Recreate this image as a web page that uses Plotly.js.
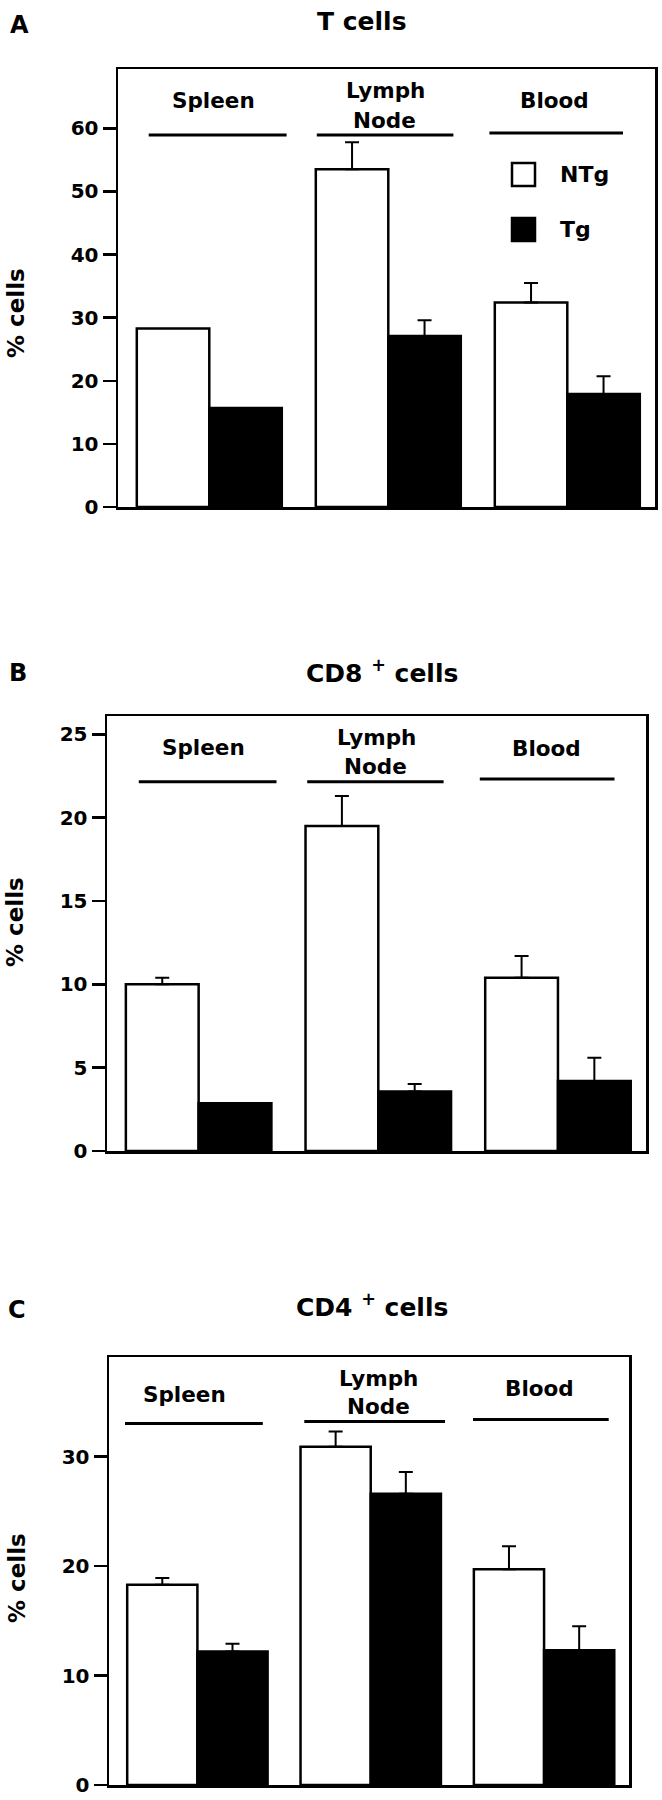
<!DOCTYPE html>
<html><head><meta charset="utf-8">
<script src="https://cdn.plot.ly/plotly-3.0.1.min.js"></script>
<style>body{margin:0;background:#fff}#chart{width:662px;height:1800px}</style>
</head><body><div id="chart"></div>
<script>
// ---------------- data ----------------
const categories = ["Spleen", "Lymph Node", "Blood"];
const seriesNames = ["NTg", "Tg"];
const panelLetters = ["A", "B", "C"];
const panelTitles = ["T cells", "CD8 <sup>+</sup> cells", "CD4 <sup>+</sup> cells"];
const yAxisLabel = "% cells";

// Panel A: T cells
const tcellNTg = [28.3, 53.5, 32.4];
const tcellNTgErr = [NaN, 4.3, 3.1];
const tcellTg = [15.7, 27.1, 17.9];
const tcellTgErr = [NaN, 2.5, 2.8];
const tcellTicks = [0, 10, 20, 30, 40, 50, 60];

// Panel B: CD8+ cells
const cd8NTg = [10.0, 19.5, 10.4];
const cd8NTgErr = [0.4, 1.8, 1.3];
const cd8Tg = [2.87, 3.57, 4.2];
const cd8TgErr = [NaN, 0.45, 1.4];
const cd8Ticks = [0, 5, 10, 15, 20, 25];

// Panel C: CD4+ cells
const cd4NTg = [18.3, 30.9, 19.7];
const cd4NTgErr = [0.6, 1.4, 2.1];
const cd4Tg = [12.2, 26.6, 12.3];
const cd4TgErr = [0.7, 2.0, 2.2];
const cd4Ticks = [0, 10, 20, 30];

// ---------------- layout geometry (pixels) ----------------
const W = 662, H = 1800;
const px = v => v / W;
const py = v => 1 - v / H;
const FONT = "DejaVu Sans";

const panels = [
  { ntg: tcellNTg, ntgErr: tcellNTgErr, tg: tcellTg, tgErr: tcellTgErr, ticks: tcellTicks,
    box: [118, 655, 69, 507], ymax: 69.4,
    letter: [19, 25], title: [361.5, 21],
    labels: [[[214, 100]], [[385.7, 90], [384.5, 121]], [[554.7, 100]]],
    lines: [[148.7, 286.6, 135], [316.8, 453.4, 135], [489.4, 623, 133]],
    ytitle: [16, 313], legend: true },
  { ntg: cd8NTg, ntgErr: cd8NTgErr, tg: cd8Tg, tgErr: cd8TgErr, ticks: cd8Ticks,
    box: [107, 646, 716, 1151], ymax: 26.1,
    letter: [18, 673], title: [382, 672],
    labels: [[[203.6, 747]], [[376, 737], [375, 766]], [[546, 748]]],
    lines: [[138.8, 276.5, 781.7], [307.2, 443.6, 781.7], [479.8, 614.5, 779]],
    ytitle: [15, 922], legend: false },
  { ntg: cd4NTg, ntgErr: cd4NTgErr, tg: cd4Tg, tgErr: cd4TgErr, ticks: cd4Ticks,
    box: [109, 629, 1357, 1785], ymax: 39.1,
    letter: [17, 1310], title: [372, 1305],
    labels: [[[184.6, 1394]], [[379, 1378], [378, 1406]], [[539.6, 1388]]],
    lines: [[125, 262.8, 1423.4], [304.3, 445, 1421.6], [473, 608.7, 1419.5]],
    ytitle: [17, 1578], legend: false }
];

const traces = [];
const annotations = [];
const shapes = [];
const layout = {
  width: W, height: H,
  margin: { l: 0, r: 0, t: 0, b: 0 },
  paper_bgcolor: "#fff", plot_bgcolor: "#fff",
  showlegend: false, hovermode: false,
  barmode: "group", bargap: 0.19, bargroupgap: 0,
  font: { family: FONT, color: "#000", weight: "bold" }
};

function errY(err) {
  return {
    type: "data", symmetric: false,
    array: err.map(e => (isNaN(e) ? NaN : e)),
    arrayminus: err.map(e => (isNaN(e) ? NaN : 0)),
    color: "#000", thickness: 2, width: 7, visible: true
  };
}

panels.forEach((p, i) => {
  const n = i + 1;
  const xa = "x" + (n === 1 ? "" : n), ya = "y" + (n === 1 ? "" : n);
  const xk = "xaxis" + (n === 1 ? "" : n), yk = "yaxis" + (n === 1 ? "" : n);
  traces.push({
    type: "bar", name: seriesNames[0], x: categories, y: p.ntg,
    xaxis: xa, yaxis: ya,
    marker: { color: "#fff", line: { color: "#000", width: 2.5 } },
    error_y: errY(p.ntgErr)
  });
  traces.push({
    type: "bar", name: seriesNames[1], x: categories, y: p.tg,
    xaxis: xa, yaxis: ya,
    marker: { color: "#000", line: { color: "#000", width: 2.5 } },
    error_y: errY(p.tgErr)
  });
  const [x0, x1, y0, y1] = p.box;
  layout[xk] = {
    type: "category", domain: [px(x0), px(x1)], range: [-0.51, 2.49],
    showline: true, mirror: true, linecolor: "#000", linewidth: 2.5,
    showticklabels: false, ticks: "", showgrid: false, zeroline: false,
    anchor: ya, fixedrange: true
  };
  layout[yk] = {
    domain: [py(y1), py(y0)], range: [0, p.ymax],
    showline: true, mirror: true, linecolor: "#000", linewidth: 2.5,
    ticks: "outside", ticklen: 13, tickwidth: 2.5, tickcolor: "#000",
    tickvals: p.ticks, ticktext: p.ticks.map(String),
    tickfont: { family: FONT, size: 20, color: "#000", weight: "bold" },
    showgrid: false, zeroline: false, anchor: xa, fixedrange: true
  };
  // panel letter and title
  annotations.push({ xref: "paper", yref: "paper", x: px(p.letter[0]), y: py(p.letter[1]),
    text: panelLetters[i], showarrow: false, xanchor: "center", yanchor: "middle",
    font: { family: FONT, size: 24, color: "#000", weight: "bold" } });
  annotations.push({ xref: "paper", yref: "paper", x: px(p.title[0]), y: py(p.title[1]),
    text: panelTitles[i], showarrow: false, xanchor: "center", yanchor: "middle",
    font: { family: FONT, size: 25, color: "#000", weight: "bold" } });
  // y axis title
  annotations.push({ xref: "paper", yref: "paper", x: px(p.ytitle[0]), y: py(p.ytitle[1]),
    text: yAxisLabel, textangle: -90, showarrow: false, xanchor: "center", yanchor: "middle",
    font: { family: FONT, size: 23, color: "#000", weight: "bold" } });
  // category labels and bracket lines
  categories.forEach((c, k) => {
    const words = c.split(" ");
    words.forEach((w, j) => {
      const pos = p.labels[k][j];
      annotations.push({ xref: "paper", yref: "paper", x: px(pos[0]), y: py(pos[1]),
        text: w, showarrow: false, xanchor: "center", yanchor: "middle",
        font: { family: FONT, size: 21.5, color: "#000", weight: "bold" } });
    });
    const L = p.lines[k];
    shapes.push({ type: "line", xref: "paper", yref: "paper",
      x0: px(L[0]), x1: px(L[1]), y0: py(L[2]), y1: py(L[2]),
      line: { color: "#000", width: 3 } });
  });
  if (p.legend) {
    const items = [[163, 186, "#fff"], [218, 241, "#000"]];
    items.forEach((it, j) => {
      shapes.push({ type: "rect", xref: "paper", yref: "paper",
        x0: px(512), x1: px(535), y0: py(it[1]), y1: py(it[0]),
        fillcolor: it[2], line: { color: "#000", width: 2.5 } });
      annotations.push({ xref: "paper", yref: "paper", x: px(558), y: py((it[0] + it[1]) / 2),
        text: seriesNames[j], showarrow: false, xanchor: "left", yanchor: "middle",
        font: { family: FONT, size: 22, color: "#000", weight: "bold" } });
    });
  }
});

layout.annotations = annotations;
layout.shapes = shapes;

Plotly.newPlot("chart", traces, layout, { staticPlot: true, displayModeBar: false });
</script>
</body></html>
